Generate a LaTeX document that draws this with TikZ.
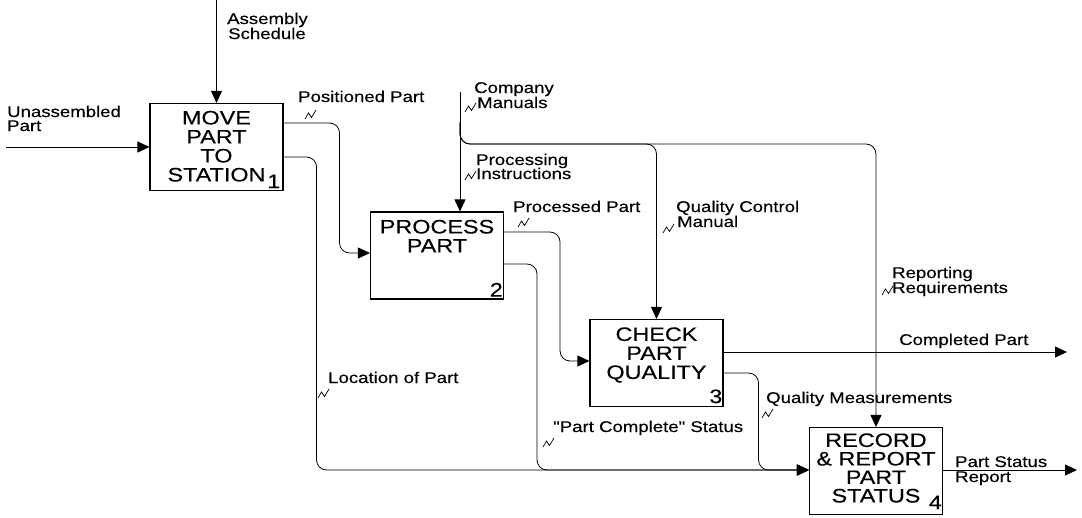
\documentclass[tikz,border=0pt]{standalone}
\usepackage{fontspec}
\newfontfamily\idfont[FakeStretch=1.2,FakeBold=0.3]{Liberation Sans}
\usetikzlibrary{arrows.meta,calc}
\begin{document}
\begin{tikzpicture}[x=1pt,y=1pt,
  box/.style={draw, line width=1.1pt, inner sep=0, minimum width=133, minimum height=87},
  boxtxt/.style={font=\idfont\fontsize{19.5}{19}\selectfont, align=center, text width=130, inner sep=0, anchor=base},
  numtxt/.style={font=\idfont\fontsize{19.5}{19}\selectfont, inner sep=0, anchor=base east},
  lbl/.style={font=\idfont\fontsize{15.5}{15}\selectfont, inner sep=0, anchor=base west},
  arr/.style={line width=0.8pt, -{Triangle[length=12pt,width=11pt]}},
  flow/.style={arr, rounded corners=10pt},
  squig/.pic={\draw[line width=0.7pt] (0,0) -- (3.5,6) -- (6.5,1.5) -- (11,9);}
]
\useasboundingbox (0,0) rectangle (1082,-517);
% boxes
\node[box] (b1) at (216.5,-147) {};
\node[box] (b2) at (437,-255.5) {};
\node[box] (b3) at (656.5,-363) {};
\node[box] (b4) at (876,-471) {};
\node[boxtxt] (t1) at ([yshift=-21.5]b1.north) {MOVE\\PART\\TO\\STATION};
\node[boxtxt] (t2) at ([yshift=-22]b2.north) {PROCESS\\PART};
\node[boxtxt] (t3) at ([yshift=-22]b3.north) {CHECK\\PART\\QUALITY};
\node[boxtxt,font=\idfont\fontsize{19.5}{18.5}\selectfont] (t4) at ([yshift=-20]b4.north) {RECORD\\\&~REPORT\\PART\\STATUS};
\node[numtxt] (n1) at ([xshift=-3,yshift=3]b1.south east) {1};
\node[numtxt] (n2) at ([xshift=-1,yshift=3]b2.south east) {2};
\node[numtxt] (n3) at ([xshift=-1,yshift=4]b3.south east) {3};
\node[numtxt] (n4) at ([xshift=-1,yshift=6]b4.south east) {4};
% free ends
\coordinate (asTop) at (216.5,0);
\coordinate (uaL) at (6,-147);
\coordinate (cmTop) at (460,-92);
\coordinate (cmBus) at (460,-144);
\coordinate (cpEnd) at (1067,-352);
\coordinate (psEnd) at (1077,-470);
% connectors
\draw[arr] (asTop) -- (b1.north);
\draw[arr] (uaL) -- (b1.west);
\draw[flow] ([yshift=24]b1.east) -- ++(56,0) |- ([yshift=2.5]b2.west);
\draw[flow] ([yshift=-10]b1.east) -- ++(33,0) |- ([yshift=1]b4.west);
\draw[arr] (cmTop) -- (cmTop |- b2.north);
\draw[flow] ([yshift=-30]cmTop) |- (b3.north |- cmBus) -- (b3.north);
\draw[flow] ([yshift=-30]cmTop) |- (b4.north |- cmBus) -- (b4.north);
\draw[flow] ([yshift=23.5]b2.east) -- ++(56,0) |- ([yshift=2]b3.west);
\draw[flow] ([yshift=-8.5]b2.east) -- ++(33,0) |- ([yshift=1]b4.west);
\draw[arr] ([yshift=11]b3.east) -- (cpEnd);
\draw[flow] ([yshift=-10]b3.east) -- ++(35,0) |- ([yshift=1]b4.west);
\draw[arr] ([yshift=1]b4.east) -- (psEnd);
% labels
\node[lbl] (lAs1) at (227,-24) {Assembly};
\node[lbl] (lAs2) at (228,-39) {Schedule};
\node[lbl] (lUa1) at (7,-117) {Unassembled};
\node[lbl] (lUa2) at (7,-131) {Part};
\node[lbl] (lPos) at (298,-102) {Positioned Part};
\node[lbl] (lCm1) at (474,-93) {Company};
\node[lbl] (lCm2) at (477,-108) {Manuals};
\node[lbl] (lPi1) at (476,-165) {Processing};
\node[lbl] (lPi2) at (476,-179) {Instructions};
\node[lbl] (lPp) at (513,-212) {Processed Part};
\node[lbl] (lQc1) at (676,-212) {Quality Control};
\node[lbl] (lQc2) at (677,-227) {Manual};
\node[lbl] (lRr1) at (892,-278) {Reporting};
\node[lbl] (lRr2) at (892,-293) {Requirements};
\node[lbl] (lCp) at (899,-345) {Completed Part};
\node[lbl] (lLoc) at (328,-383) {Location of Part};
\node[lbl] (lPc) at (553,-432) {"Part Complete" Status};
\node[lbl] (lQm) at (766,-403) {Quality Measurements};
\node[lbl] (lPs1) at (955,-467) {Part Status};
\node[lbl] (lPs2) at (955,-482) {Report};
% squiggles
\pic at (305,-119) {squig};
\pic at (465,-112) {squig};
\pic at (465,-180) {squig};
\pic at (518,-227) {squig};
\pic at (663,-233) {squig};
\pic at (882,-295) {squig};
\pic at (318,-398) {squig};
\pic at (543,-447) {squig};
\pic at (762,-418) {squig};
\end{tikzpicture}
\end{document}
